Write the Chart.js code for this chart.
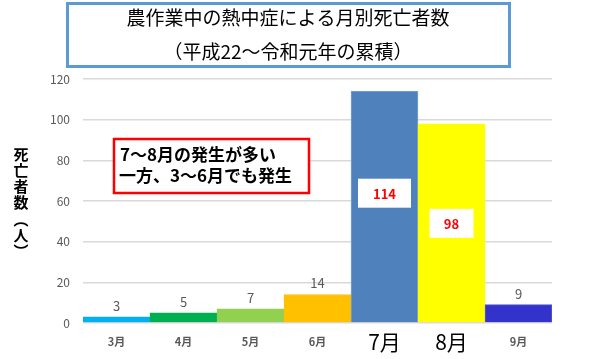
<!DOCTYPE html>
<html>
<head>
<meta charset="utf-8">
<script src="https://cdn.jsdelivr.net/npm/chart.js@4.4.0/dist/chart.umd.min.js"></script>
<style>
  html, body { margin: 0; padding: 0; background: #fff; }
  #wrap { width: 591px; height: 359px; }
</style>
</head>
<body>
<div id="wrap"><canvas id="deathChart" width="591" height="359"></canvas></div>
<script>
var months = ["3月", "4月", "5月", "6月", "7月", "8月", "9月"];
var deaths = [3, 5, 7, 14, 114, 98, 9];
var barColors = ["#00B0F0", "#00B050", "#92D050", "#FFC000", "#4F81BD", "#FFFF00", "#3333CC"];
var bigMonths = ["7月", "8月"];
var yTicks = [0, 20, 40, 60, 80, 100, 120];
var titleLines = ["農作業中の熱中症による月別死亡者数", "（平成22～令和元年の累積）"];
var noteLines = ["7～8月の発生が多い", "一方、3～6月でも発生"];
var yTitle = ["死", "亡", "者", "数", "︵", "人", "︶"];

var FONT = "'Noto Sans CJK JP', 'Noto Sans', sans-serif";

var decorations = {
  id: "decorations",
  afterDatasetsDraw: function (chart) {
    var ctx = chart.ctx;
    var meta = chart.getDatasetMeta(0);
    ctx.save();

    // title box
    ctx.strokeStyle = "#5B9BD5";
    ctx.lineWidth = 3;
    ctx.strokeRect(67.5, 3.5, 442, 63);
    ctx.fillStyle = "#000";
    ctx.font = "19px " + FONT;
    ctx.textAlign = "center";
    ctx.textBaseline = "middle";
    ctx.fillText(titleLines[0], 288, 18);
    ctx.fillText(titleLines[1], 288, 52);

    // y axis title, stacked characters
    ctx.font = "bold 15px " + FONT;
    yTitle.forEach(function (ch, i) {
      ctx.fillText(ch, 21, 154 + i * 16.2);
    });

    // value labels
    meta.data.forEach(function (bar, i) {
      var v = deaths[i];
      if (bigMonths.indexOf(months[i]) >= 0) {
        var frac = i === 4 ? 0.56 : 0.5;
        var y = chart.scales.y.getPixelForValue(v * frac);
        var w = String(v).length === 3 ? 53 : 44;
        ctx.fillStyle = "#fff";
        ctx.fillRect(bar.x - w / 2, y - 14.5, w, 29);
        ctx.fillStyle = "#FF0000";
        ctx.font = "bold 13px " + FONT;
        ctx.fillText(String(v), bar.x, y + 1);
      } else {
        ctx.fillStyle = "#595959";
        ctx.font = "13px " + FONT;
        ctx.fillText(String(v), bar.x, bar.y - 11);
      }
    });

    // note box
    ctx.fillStyle = "#fff";
    ctx.fillRect(113, 138, 196, 55);
    ctx.strokeStyle = "#FF0000";
    ctx.lineWidth = 2.5;
    ctx.strokeRect(114, 139, 195, 54);
    ctx.fillStyle = "#000";
    ctx.font = "bold 17px " + FONT;
    ctx.textAlign = "left";
    ctx.fillText(noteLines[0], 120, 155);
    ctx.fillText(noteLines[1], 119, 176);

    ctx.restore();
  }
};

var chart = new Chart(document.getElementById("deathChart").getContext("2d"), {
  type: "bar",
  data: {
    labels: months,
    datasets: [
      {
        data: deaths,
        backgroundColor: barColors,
        borderColor: barColors.map(function (c, i) { return i === 4 ? "#7EA6D6" : (i === 6 ? "#5A5AD8" : c); }),
        borderWidth: 1,
        borderSkipped: "bottom",
        categoryPercentage: 1.0,
        barPercentage: 1.0
      }
    ]
  },
  options: {
    responsive: false,
    animation: false,
    layout: { padding: { top: 79, left: 0, right: 39, bottom: 0 } },
    plugins: {
      legend: { display: false },
      tooltip: { enabled: false },
      title: { display: false }
    },
    scales: {
      x: {
        grid: { display: false },
        border: { display: false },
        ticks: {
          padding: 1,
          maxRotation: 0,
          color: function (c) { return bigMonths.indexOf(months[c.index]) >= 0 ? "#000" : "#595959"; },
          font: function (c) {
            var big = bigMonths.indexOf(months[c.index]) >= 0;
            return { family: FONT, size: big ? 21 : 11, weight: big ? "normal" : "bold", lineHeight: "20px" };
          }
        },
        afterFit: function (scale) { scale.height = 36; }
      },
      y: {
        min: 0,
        max: 120,
        afterBuildTicks: function (scale) {
          scale.ticks = yTicks.map(function (v) { return { value: v }; });
        },
        grid: { color: "#D9D9D9", lineWidth: 1.5, drawTicks: false },
        border: { display: false },
        ticks: {
          padding: 13,
          color: "#595959",
          font: { family: FONT, size: 12 }
        },
        afterFit: function (scale) { scale.width = 83; }
      }
    }
  },
  plugins: [decorations]
});
</script>
</body>
</html>
